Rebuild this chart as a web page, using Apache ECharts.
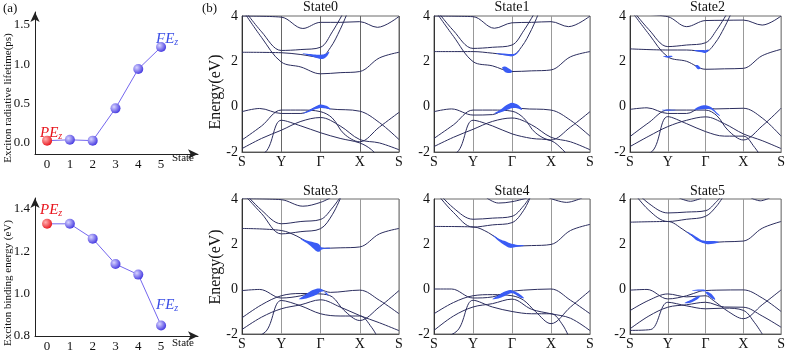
<!DOCTYPE html>
<html>
<head>
<meta charset="utf-8">
<script src="https://cdn.jsdelivr.net/npm/echarts@6/dist/echarts.min.js"></script>
<style>
  html, body { margin: 0; padding: 0; background: #fff; }
  #main { width: 788px; height: 353px; }
</style>
</head>
<body>
<div id="main"></div>
<script>
// panel (a)
var stateIdx = [0, 1, 2, 3, 4, 5];
var radLifetime = [0.03, 0.04, 0.03, 0.44, 0.94, 1.22];
var bindEnergy = [1.33, 1.33, 1.26, 1.14, 1.09, 0.85];
var lifetimeTicks = [0, 0.5, 1.0, 1.5];
var energyTicks = [0.8, 1.0, 1.2, 1.4];

// panel (b): k path and energy ticks
var kLabels = ['S', 'Y', 'Γ', 'X', 'S'];
var bandTicks = [-2, 0, 2, 4];
var stateNames = ['State0', 'State1', 'State2', 'State3', 'State4', 'State5'];

// bands as [k, E] points
var bandsState0 = [
  [[0,4.3],[0.5,3.05],[1,1.97],[1.5,1.75],[2,1.45],[2.5,1.5],[3,1.55],[3.5,2.15],[4,2.4]],
  [[0,4.4],[0.5,3.3],[1,2.48],[1.5,2.52],[2,2.62],[2.3,3.3],[2.6,4.2]],
  [[0,2.4],[1,2.38],[1.5,2.3],[2,2.18],[2.25,2.6],[2.5,3.4],[2.7,4.2]],
  [[0,4.0],[1,3.95],[1.55,3.45],[2,3.72],[2.5,3.72],[3,3.75],[3.45,3.5],[4,3.98]],
  [[0,-0.22],[0.45,-0.08],[1,-0.3],[1.5,-0.3],[1.85,-0.05],[2,0.03],[2.25,-0.1],[3,-0.2],[3.5,-0.7],[4,-1.45]],
  [[0,-1.47],[0.5,-0.85],[1,-0.15],[1.5,-0.15],[2,-0.22],[2.3,-0.5],[2.6,-1.2],[3,-1.55],[3.5,-0.9],[4,-0.25]],
  [[0,-1.85],[0.5,-1.4],[1,-1.04],[1.5,-0.65],[2,-0.48],[2.5,-0.85],[3,-1.45],[3.5,-1.6],[4,-1.9]],
  [[0,-2.3],[0.6,-2.0],[1,-0.6],[1.5,-0.85],[2,-1.15],[2.5,-1.4],[3,-1.6],[3.3,-1.9],[3.5,-2.3]]
];
var bandsState1 = [
  [[0,4.3],[0.5,3.1],[1,1.99],[1.5,1.8],[2,1.55],[2.5,1.58],[3,1.62],[3.5,2.2],[4,2.43]],
  [[0,4.4],[0.5,3.35],[1,2.57],[1.5,2.62],[2,2.72],[2.3,3.35],[2.6,4.2]],
  [[0,2.43],[1,2.43],[1.5,2.36],[2,2.27],[2.25,2.65],[2.5,3.4],[2.7,4.2]],
  [[0,4.0],[1,3.97],[1.55,3.46],[2,3.7],[2.5,3.72],[3,3.75],[3.45,3.53],[4,4.0]],
  [[0,-0.22],[0.45,-0.1],[1,-0.37],[1.5,-0.35],[1.85,-0.05],[2,0.05],[2.25,-0.08],[3,-0.15],[3.5,-0.6],[4,-1.3]],
  [[0,-1.4],[0.5,-0.8],[1,-0.15],[1.5,-0.15],[2,-0.2],[2.3,-0.5],[2.6,-1.15],[3,-1.47],[3.5,-0.9],[4,-0.22]],
  [[0,-1.76],[0.5,-1.35],[1,-1.0],[1.5,-0.65],[2,-0.5],[2.5,-0.8],[3,-1.35],[3.5,-1.55],[4,-1.9]],
  [[0,-2.3],[0.6,-2.0],[1,-0.6],[1.5,-0.85],[2,-1.2],[2.5,-1.4],[3,-1.5],[3.3,-1.9],[3.5,-2.3]]
];
var bandsState2 = [
  [[0,4.3],[0.5,3.2],[1,2.2],[1.5,2.0],[2,1.65],[2.5,1.67],[3,1.69],[3.5,2.25],[4,2.53]],
  [[0,4.4],[0.5,3.4],[1,2.65],[1.5,2.72],[2,2.82],[2.3,3.4],[2.6,4.2]],
  [[0,2.55],[1,2.5],[1.5,2.5],[2,2.43],[2.25,2.8],[2.5,3.5],[2.7,4.2]],
  [[0,4.1],[1,3.97],[1.5,3.53],[2,3.8],[2.5,3.81],[3,3.82],[3.5,3.6],[4,4.0]],
  [[0,-0.12],[0.45,-0.05],[1,-0.3],[1.5,-0.3],[1.85,-0.05],[2,-0.02],[2.25,-0.1],[3,-0.07],[3.5,-0.5],[4,-1.3]],
  [[0,-1.32],[0.5,-0.7],[1,-0.15],[1.5,-0.15],[2,-0.15],[2.3,-0.4],[2.6,-1.05],[3,-1.47],[3.5,-0.85],[4,-0.07]],
  [[0,-1.76],[0.5,-1.3],[1,-0.88],[1.5,-0.6],[2,-0.45],[2.5,-0.75],[3,-1.2],[3.5,-1.5],[4,-1.85]],
  [[0,-2.3],[0.6,-1.95],[1,-0.44],[1.5,-0.75],[2,-1.1],[2.5,-1.3],[3,-1.3],[3.3,-1.8],[3.5,-2.3]]
];
var bandsState3 = [
  [[0,4.3],[0.5,3.35],[1,2.45],[1.5,2.55],[2,2.68],[2.3,3.3],[2.55,4.2]],
  [[0,4.4],[0.5,3.5],[1,2.9],[1.5,3.0],[2,3.09],[2.3,3.6],[2.55,4.2]],
  [[0,2.69],[1,2.6],[1.4,2.35],[1.7,2.05],[2,1.81],[2.5,1.83],[3,1.87],[3.5,2.45],[4,2.69]],
  [[0,4.02],[1,3.97],[1.55,3.68],[2,3.85],[2.3,4.1]],
  [[0,-0.07],[0.45,-0.02],[1,-0.4],[1.5,-0.3],[1.85,-0.1],[2,-0.05],[2.25,-0.15],[3,-0.05],[3.5,-0.5],[4,-1.1]],
  [[0,-1.28],[0.5,-0.7],[1,-0.3],[1.5,-0.2],[2,-0.22],[2.3,-0.35],[2.6,-0.95],[3,-1.4],[3.5,-0.8],[4,-0.07]],
  [[0,-1.8],[0.5,-1.25],[1,-0.88],[1.5,-0.7],[2,-0.48],[2.5,-0.8],[3,-1.18],[3.5,-1.5],[4,-1.85]],
  [[0,-2.3],[0.6,-1.9],[1,-0.51],[1.5,-0.75],[2,-1.1],[2.5,-1.2],[3,-1.2],[3.3,-1.7],[3.5,-2.3]]
];
var bandsState4 = [
  [[0,4.4],[0.5,3.4],[1,2.75],[1.5,2.85],[2,2.95],[2.3,3.5],[2.5,4.2]],
  [[0,4.5],[0.5,3.6],[1,3.1],[1.5,3.15],[2,3.23],[2.3,3.7],[2.5,4.2]],
  [[0,2.78],[1,2.76],[1.4,2.5],[1.7,2.15],[2,1.91],[2.5,1.93],[3,1.98],[3.5,2.6],[4,2.87]],
  [[1.35,4.05],[1.65,3.82],[2,3.88],[2.4,4.05]],
  [[2.95,4.05],[3.4,3.85],[3.8,4.05]],
  [[0,0.0],[0.45,0.0],[1,-0.4],[1.5,-0.35],[1.85,-0.15],[2,-0.1],[2.3,-0.05],[3,0.0],[3.5,-0.5],[4,-1.1]],
  [[0,-1.1],[0.5,-0.6],[1,-0.3],[1.5,-0.25],[2,-0.3],[2.3,-0.5],[2.6,-1.0],[3,-1.54],[3.5,-0.8],[4,-0.07]],
  [[0,-1.84],[0.5,-1.2],[1,-0.8],[1.5,-0.65],[2,-0.45],[2.5,-0.9],[3,-1.1],[3.5,-1.3],[4,-1.85]],
  [[0,-2.3],[0.6,-1.85],[1,-0.5],[1.5,-0.8],[2,-1.0],[2.5,-1.1],[3,-1.1],[3.3,-1.6],[3.5,-2.3]]
];
var bandsState5 = [
  [[0,4.5],[0.5,3.5],[1,3.0],[1.5,3.1],[2,3.23],[2.3,3.7],[2.5,4.2]],
  [[0,4.6],[0.5,3.8],[1,3.38],[1.5,3.42],[2,3.48],[2.3,3.9],[2.45,4.2]],
  [[0,2.97],[1,3.0],[1.4,2.65],[1.7,2.3],[2,2.06],[2.5,2.1],[3,2.13],[3.5,2.7],[4,3.0]],
  [[1.3,4.05],[1.6,3.9],[1.9,4.05]],
  [[3.2,4.05],[3.45,3.92],[3.7,4.05]],
  [[0,-0.05],[0.45,-0.02],[1,-0.44],[1.5,-0.3],[1.85,-0.1],[2,-0.07],[2.3,-0.05],[3,-0.04],[3.5,-0.4],[4,-1.0]],
  [[0,-0.96],[0.5,-0.5],[1,-0.22],[1.5,-0.35],[2,-0.3],[2.2,-0.5],[2.6,-1.0],[3,-1.32],[3.5,-0.7],[4,-0.04]],
  [[0,-1.77],[0.5,-1.2],[1,-0.81],[1.5,-0.7],[2,-0.59],[2.5,-0.8],[3,-0.81],[3.5,-1.2],[4,-1.7]],
  [[0,-1.84],[0.55,-1.8],[1,-0.59],[1.5,-0.75],[2,-0.88],[2.5,-0.85],[3,-0.95],[3.3,-1.5],[3.5,-2.0]]
];

// exciton weight on bands: [k, E, half width in eV]
var blueState0 = [
  [[1.55,2.35,0.01],[1.75,2.28,0.04],[1.9,2.22,0.07],[2.05,2.2,0.1],[2.15,2.28,0.08],[2.22,2.4,0.02]],
  [[1.55,-0.3,0.01],[1.7,-0.2,0.04],[1.85,-0.07,0.06],[2.0,0.02,0.08],[2.15,-0.02,0.06],[2.25,-0.1,0.02]]
];
var blueState1 = [
  [[1.6,2.35,0.01],[1.85,2.3,0.04],[2.0,2.27,0.05],[2.12,2.35,0.03],[2.2,2.5,0.01]],
  [[1.75,1.72,0.02],[1.82,1.65,0.12],[1.92,1.58,0.1],[2.0,1.55,0.03]],
  [[1.55,-0.3,0.01],[1.7,-0.2,0.06],[1.85,-0.05,0.11],[2.0,0.05,0.12],[2.15,0.0,0.08],[2.25,-0.12,0.03]]
];
var blueState2 = [
  [[0.88,2.22,0.01],[1.0,2.2,0.04],[1.12,2.22,0.02]],
  [[1.7,2.48,0.01],[1.9,2.45,0.05],[2.0,2.43,0.06],[2.08,2.5,0.02]],
  [[1.73,1.8,0.02],[1.8,1.74,0.09],[1.86,1.7,0.03]],
  [[0.85,-0.15,0.01],[1.0,-0.15,0.03],[1.2,-0.15,0.01]],
  [[1.7,-0.12,0.01],[1.85,-0.05,0.07],[2.0,-0.02,0.08],[2.15,-0.08,0.05],[2.3,-0.3,0.03],[2.38,-0.4,0.01]]
];
var blueState3 = [
  [[1.5,2.22,0.01],[1.65,2.1,0.06],[1.78,1.98,0.12],[1.9,1.86,0.18],[1.97,1.82,0.16],[2.03,1.8,0.04],[2.25,1.81,0.015]],
  [[1.45,-0.45,0.01],[1.6,-0.35,0.08],[1.75,-0.22,0.13],[1.9,-0.12,0.13],[2.0,-0.06,0.07],[2.08,-0.08,0.02]],
  [[2.1,-0.15,0.01],[2.15,-0.2,0.04],[2.2,-0.28,0.01]]
];
var blueState4 = [
  [[1.5,2.4,0.01],[1.65,2.2,0.05],[1.8,2.05,0.09],[1.95,1.93,0.1],[2.1,1.92,0.05],[2.3,1.93,0.02]],
  [[1.5,-0.45,0.01],[1.65,-0.35,0.07],[1.8,-0.22,0.1],[1.95,-0.12,0.08],[2.05,-0.15,0.06],[2.2,-0.3,0.07],[2.3,-0.4,0.02]]
];
var blueState5 = [
  [[1.5,2.55,0.01],[1.65,2.38,0.05],[1.75,2.25,0.07],[1.9,2.12,0.05],[2.05,2.06,0.07],[2.2,2.07,0.06],[2.35,2.09,0.01]],
  [[1.65,-0.07,0.01],[1.85,-0.05,0.03],[2.0,-0.07,0.03]],
  [[2.0,-0.15,0.02],[2.08,-0.22,0.08],[2.17,-0.33,0.09],[2.25,-0.45,0.03]],
  [[1.45,-0.62,0.01],[1.6,-0.55,0.06],[1.75,-0.42,0.07],[1.85,-0.33,0.02]]
];

var allBands = [bandsState0, bandsState1, bandsState2, bandsState3, bandsState4, bandsState5];
var allBlue = [blueState0, blueState1, blueState2, blueState3, blueState4, blueState5];

var serif = "'Liberation Serif', 'Times New Roman', serif";
var bandColor = '#2b2d5e';
var blueColor = '#3a5cf5';

var chart = echarts.init(document.getElementById('main'));

var grids = [
  { left: 35, top: 12, width: 163, height: 142 },
  { left: 35, top: 198, width: 163, height: 138 }
];
var panelLeft = [242, 434, 630];
var panelWidth = [157, 156, 155];
for (var p = 0; p < 6; p++) {
  var col = p % 3, row = Math.floor(p / 3);
  grids.push({
    left: panelLeft[col], width: panelWidth[col],
    top: row === 0 ? 16 : 199, height: row === 0 ? 136 : 135,
    show: true, borderColor: '#6a6a6a', borderWidth: 1
  });
}

var arrowLine = { show: true, onZero: false, symbol: ['none', 'arrow'], symbolSize: [7, 10], lineStyle: { color: '#222', width: 1 } };
var xAxes = [
  { gridIndex: 0, type: 'value', min: -0.53, max: 6.62, axisLine: arrowLine, axisTick: { show: false }, splitLine: { show: false },
    axisLabel: { customValues: stateIdx, fontFamily: serif, fontSize: 13, color: '#111', margin: 4 } },
  { gridIndex: 1, type: 'value', min: -0.53, max: 6.62, axisLine: arrowLine, axisTick: { show: false }, splitLine: { show: false },
    axisLabel: { customValues: stateIdx, fontFamily: serif, fontSize: 13, color: '#111', margin: 4 } }
];
var yAxes = [
  { gridIndex: 0, type: 'value', min: -0.14, max: 1.665, axisLine: arrowLine, axisTick: { show: false }, splitLine: { show: false },
    axisLabel: { customValues: lifetimeTicks, formatter: function (v) { return v.toFixed(1); }, fontFamily: serif, fontSize: 13, color: '#111', margin: 5 } },
  { gridIndex: 1, type: 'value', min: 0.8, max: 1.452, axisLine: arrowLine, axisTick: { show: false }, splitLine: { show: false },
    axisLabel: { customValues: energyTicks, formatter: function (v) { return v.toFixed(1); }, fontFamily: serif, fontSize: 13, color: '#111', margin: 5 } }
];
for (var p = 0; p < 6; p++) {
  xAxes.push({
    gridIndex: p + 2, type: 'value', min: 0, max: 4, interval: 1,
    axisLine: { show: true, onZero: false, lineStyle: { color: '#555' } },
    axisTick: { show: false },
    axisLabel: { formatter: function (v) { return kLabels[v]; }, fontFamily: serif, fontSize: 14, color: '#111', margin: 3 },
    splitLine: { show: true, lineStyle: { color: p === 0 ? '#666' : '#999', width: 1 } }
  });
  yAxes.push({
    gridIndex: p + 2, type: 'value', min: -2, max: 4, interval: 2,
    axisLine: { show: true, onZero: false, lineStyle: { color: '#333' } },
    axisTick: { show: false }, splitLine: { show: false },
    axisLabel: { fontFamily: serif, fontSize: 14, color: '#111', margin: 4 }
  });
}

function sphere(light, dark) {
  return new echarts.graphic.RadialGradient(0.35, 0.35, 0.7, [
    { offset: 0, color: light }, { offset: 1, color: dark }
  ]);
}
function pointData(values) {
  return values.map(function (v, i) {
    return {
      value: [stateIdx[i], v],
      itemStyle: { color: i === 0 ? sphere('#ffb0b0', '#e8141c') : sphere('#d8d4ff', '#4236e0') }
    };
  });
}

var series = [
  { type: 'line', xAxisIndex: 0, yAxisIndex: 0, data: pointData(radLifetime), symbol: 'circle', symbolSize: 10,
    lineStyle: { color: '#7466ee', width: 1 }, z: 3 },
  { type: 'line', xAxisIndex: 1, yAxisIndex: 1, data: pointData(bindEnergy), symbol: 'circle', symbolSize: 10,
    lineStyle: { color: '#7466ee', width: 1 }, z: 3 }
];

function blobRenderer(blob) {
  return function (params, api) {
    if (params.dataIndex !== 0) return null;
    var top = [], bot = [];
    blob.forEach(function (pt) {
      top.push(api.coord([pt[0], pt[1] + pt[2]]));
      bot.unshift(api.coord([pt[0], pt[1] - pt[2]]));
    });
    return { type: 'polygon', shape: { points: top.concat(bot), smooth: 0.3 }, style: { fill: blueColor } };
  };
}

allBands.forEach(function (bands, p) {
  bands.forEach(function (band) {
    series.push({
      type: 'line', xAxisIndex: p + 2, yAxisIndex: p + 2, data: band,
      smooth: 0.35, symbol: 'none', clip: true, silent: true,
      lineStyle: { color: bandColor, width: 1 }
    });
  });
  allBlue[p].forEach(function (blob) {
    series.push({
      type: 'custom', xAxisIndex: p + 2, yAxisIndex: p + 2, data: blob,
      renderItem: blobRenderer(blob), clip: true, silent: true, z: 4
    });
  });
});

var graphics = [
  { type: 'text', left: 3, top: 2, style: { text: '(a)', font: '13px ' + serif, fill: '#111' } },
  { type: 'text', left: 202, top: 2, style: { text: '(b)', font: '13px ' + serif, fill: '#111' } },
  { type: 'text', x: 8, y: 98, rotation: Math.PI / 2,
    style: { text: 'Exciton radiative lifetime(ps)', font: '11px ' + serif, fill: '#111', align: 'center', verticalAlign: 'middle' } },
  { type: 'text', x: 8, y: 283, rotation: Math.PI / 2,
    style: { text: 'Exciton binding energy (eV)', font: '11px ' + serif, fill: '#111', align: 'center', verticalAlign: 'middle' } },
  { type: 'text', x: 183, y: 158, style: { text: 'State', font: '11px ' + serif, fill: '#111', align: 'center', verticalAlign: 'middle' } },
  { type: 'text', x: 183, y: 343, style: { text: 'State', font: '11px ' + serif, fill: '#111', align: 'center', verticalAlign: 'middle' } },
  { type: 'text', x: 216, y: 92, rotation: Math.PI / 2,
    style: { text: 'Energy(eV)', font: '16px ' + serif, fill: '#111', align: 'center', verticalAlign: 'middle' } },
  { type: 'text', x: 216, y: 267, rotation: Math.PI / 2,
    style: { text: 'Energy(eV)', font: '16px ' + serif, fill: '#111', align: 'center', verticalAlign: 'middle' } }
];
function subLabel(x, y, main, color) {
  return {
    type: 'text', x: x, y: y,
    style: {
      text: '{m|' + main + '}{s|z}',
      rich: {
        m: { fontFamily: serif, fontStyle: 'italic', fontSize: 15, fill: color, color: color },
        s: { fontFamily: serif, fontStyle: 'italic', fontSize: 10, fill: color, color: color, verticalAlign: 'bottom', padding: [6, 0, 0, 0] }
      }
    }
  };
}
graphics.push(subLabel(40, 125, 'PE', '#e8141c'));
graphics.push(subLabel(156, 31, 'FE', '#3c4fe6'));
graphics.push(subLabel(40, 202, 'PE', '#e8141c'));
graphics.push(subLabel(156, 297, 'FE', '#3c4fe6'));
for (var p = 0; p < 6; p++) {
  var col = p % 3, row = Math.floor(p / 3);
  graphics.push({
    type: 'text', x: panelLeft[col] + panelWidth[col] / 2, y: row === 0 ? 7 : 191,
    style: { text: stateNames[p], font: '14px ' + serif, fill: '#111', align: 'center', verticalAlign: 'middle' }
  });
}

chart.setOption({
  animation: false,
  grid: grids,
  xAxis: xAxes,
  yAxis: yAxes,
  series: series,
  graphic: graphics
});
</script>
</body>
</html>
